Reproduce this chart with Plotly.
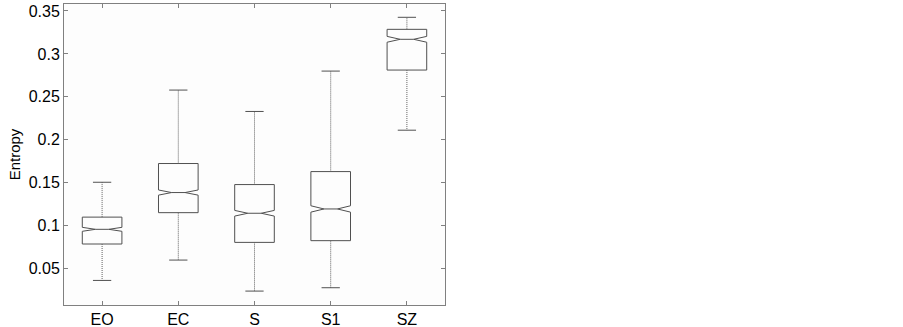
import plotly.graph_objects as go

# groups and the box statistics
groups = ['EO', 'EC', 'S', 'S1', 'SZ']
lower = [0.0363, 0.0600, 0.0239, 0.0278, 0.2112]
q1 = [0.0787, 0.1152, 0.0806, 0.0826, 0.2812]
median = [0.0958, 0.1386, 0.1145, 0.1195, 0.3170]
q3 = [0.1100, 0.1724, 0.1479, 0.1630, 0.3286]
upper = [0.1506, 0.2579, 0.2330, 0.2800, 0.3426]
notch = [0.0023, 0.0030, 0.0033, 0.0037, 0.0034]

y_ticks = [0.05, 0.1, 0.15, 0.2, 0.25, 0.3, 0.35]
y_labels = ['0.05', '0.1', '0.15', '0.2', '0.25', '0.3', '0.35']

pos = list(range(1, len(groups) + 1))
line_col = '#505050'
cap = 0.12

fig = go.Figure()

# boxes only, the whiskers are drawn separately (dotted like matlab)
fig.add_trace(go.Box(
    x=pos, q1=q1, median=median, q3=q3,
    lowerfence=q1, upperfence=q3,
    notched=True, notchspan=notch, notchwidth=0.33,
    width=0.52, whiskerwidth=0,
    fillcolor='rgba(0,0,0,0)',
    line=dict(color=line_col, width=1),
    boxpoints=False, showlegend=False, hoverinfo='skip'))

wx, wy, cx, cy = [], [], [], []
for i, p in enumerate(pos):
    wx += [p, p, None, p, p, None]
    wy += [q3[i], upper[i], None, q1[i], lower[i], None]
    cx += [p - cap, p + cap, None, p - cap, p + cap, None]
    cy += [upper[i], upper[i], None, lower[i], lower[i], None]

fig.add_trace(go.Scatter(x=wx, y=wy, mode='lines', showlegend=False, hoverinfo='skip',
                         line=dict(color='#606060', width=1, dash='1px,1px')))
fig.add_trace(go.Scatter(x=cx, y=cy, mode='lines', showlegend=False, hoverinfo='skip',
                         line=dict(color=line_col, width=1)))

axis_style = dict(showline=True, linecolor='#808080', linewidth=1, mirror='ticks',
                  ticks='inside', ticklen=4, tickcolor='#808080',
                  showgrid=False, zeroline=False, automargin=False)

fig.update_layout(
    width=903, height=327,
    margin=dict(l=64, r=458, t=4, b=22),
    plot_bgcolor='#fdfdfd', paper_bgcolor='white',
    font=dict(family='Liberation Sans, Arial', size=16, color='black'),
    xaxis=dict(range=[0.5, 5.5], tickvals=pos, ticktext=groups, **axis_style),
    yaxis=dict(range=[0.0077, 0.3581], tickvals=y_ticks, ticktext=y_labels,
               title=dict(text='Entropy', font=dict(size=15), standoff=4), **axis_style),
)

fig.write_html("out.html", config={'displayModeBar': False},
               post_script="document.body.style.margin='0px';")
